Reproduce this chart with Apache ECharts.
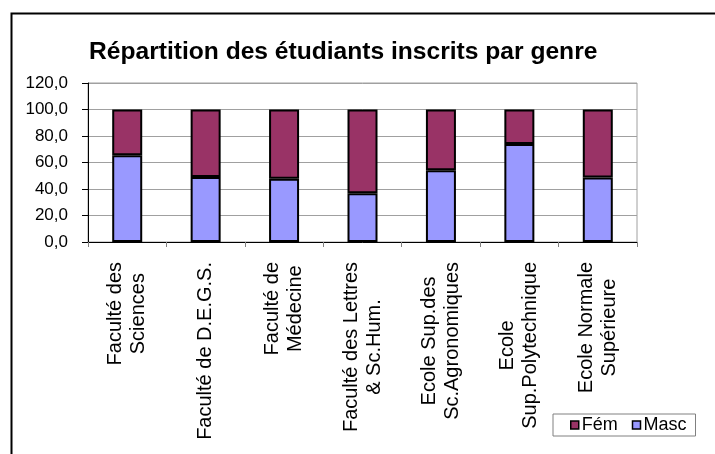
<!DOCTYPE html>
<html>
<head>
<meta charset="utf-8">
<script src="https://cdn.jsdelivr.net/npm/echarts@6/dist/echarts.min.js"></script>
<style>html,body{margin:0;padding:0;background:#fff}#c{width:715px;height:454px}</style>
</head>
<body>
<div id="c"></div>
<script>
const categories = [
  "Faculté des\nSciences",
  "Faculté de D.E.G.S.",
  "Faculté de\nMédecine",
  "Faculté des Lettres\n& Sc.Hum.",
  "Ecole Sup.des\nSc.Agronomiques",
  "Ecole\nSup.Polytechnique",
  "Ecole Normale\nSupérieure"
];
const masc = [65.4, 49.1, 47.8, 36.8, 54.1, 74.0, 48.6];
const fem = [34.6, 50.9, 52.2, 63.2, 45.9, 26.0, 51.4];
const titleText = "Répartition des étudiants inscrits par genre";
const yMin = 0, yMax = 120, yStep = 20;

const FONT = '"Liberation Sans", Arial, sans-serif';
const chart = echarts.init(document.getElementById('c'), null, {renderer: 'canvas'});
chart.setOption({
  animation: false,
  backgroundColor: '#ffffff',
  textStyle: {fontFamily: FONT, color: '#000'},
  graphic: [{
    type: 'rect', left: 9, top: 11, silent: true,
    shape: {x: 0, y: 0, width: 720, height: 460},
    style: {fill: 'none', stroke: '#000', lineWidth: 2}
  }],
  title: {
    text: titleText, left: 89, top: 40, padding: 0,
    textStyle: {fontFamily: FONT, fontWeight: 'bold', fontSize: 24.6, color: '#000'}
  },
  legend: {
    data: ['Fém', 'Masc'],
    left: 553, top: 414,
    padding: [2, 9, 2, 17],
    itemGap: 14, itemWidth: 8, itemHeight: 8,
    icon: 'rect',
    borderColor: '#808080', borderWidth: 1,
    textStyle: {fontFamily: FONT, fontSize: 18, color: '#000', padding: [0, 0, 0, -2]},
    itemStyle: {borderColor: '#000', borderWidth: 1.5}
  },
  grid: {left: 88, right: 78, top: 83, bottom: 212, show: true, borderColor: '#a0a0a0', borderWidth: 1},
  xAxis: {
    type: 'category', data: categories, boundaryGap: true,
    axisLine: {lineStyle: {color: '#000', width: 1}},
    axisTick: {show: true, length: 5, lineStyle: {color: '#808080'}},
    axisLabel: {
      rotate: 90, margin: 20, interval: 0,
      formatter: v => v.split('\n').map(s => '{c|' + s + '}').join('\n'),
      rich: {c: {fontFamily: FONT, fontSize: 20, lineHeight: 23, align: 'center', color: '#000'}}
    }
  },
  yAxis: {
    type: 'value', min: yMin, max: yMax, interval: yStep,
    axisLine: {show: true, lineStyle: {color: '#000', width: 1}},
    axisTick: {show: true, length: 6, lineStyle: {color: '#000'}},
    axisLabel: {
      margin: 20, fontFamily: FONT, fontSize: 17, color: '#000',
      formatter: v => v.toFixed(1).replace('.', ',')
    },
    splitLine: {lineStyle: {color: '#a0a0a0', width: 1}}
  },
  series: [
    {name: 'Masc', type: 'bar', stack: 't', data: masc, barWidth: 30,
     itemStyle: {color: '#9999FF', borderColor: '#000', borderWidth: 2}},
    {name: 'Fém', type: 'bar', stack: 't', data: fem, barWidth: 30,
     itemStyle: {color: '#993366', borderColor: '#000', borderWidth: 2}}
  ]
});
</script>
</body>
</html>
